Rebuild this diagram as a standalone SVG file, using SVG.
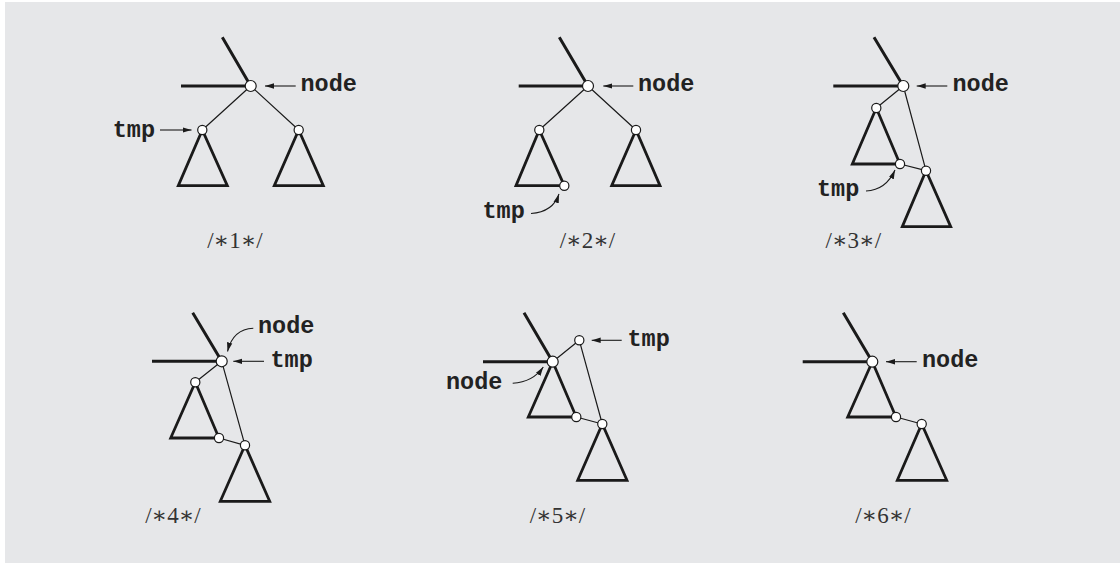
<svg xmlns="http://www.w3.org/2000/svg" width="1120" height="563" viewBox="0 0 1120 563">
<defs>
<style>
.bg{fill:#e6e7e9}
.thick{stroke:#1a1a1a;stroke-width:3;fill:none;stroke-linecap:butt}
.thin{stroke:#1a1a1a;stroke-width:1.2;fill:none}
.tri{stroke:#1a1a1a;stroke-width:2.8;fill:none;stroke-linejoin:miter}
.nd{fill:#fff;stroke:#1a1a1a;stroke-width:1.2}
.arr{stroke:#1a1a1a;stroke-width:1.1;fill:none;marker-end:url(#ah)}
.lbl{font-family:"Liberation Mono","Courier New",monospace;font-weight:bold;font-size:23.5px;fill:#222}
.cap{font-family:"Liberation Serif","DejaVu Serif",serif;font-size:23px;fill:#333;text-anchor:middle}
</style>
<marker id="ah" markerUnits="userSpaceOnUse" markerWidth="9" markerHeight="6" refX="9" refY="3" orient="auto">
<path d="M0,0.3 L9,3 L0,5.7 z" fill="#1a1a1a"/>
</marker>
</defs>
<rect class="bg" x="5" y="2" width="1115" height="561"/>

<g id="connectors">
<!-- panel 1 -->
<path class="thick" d="M222.3,37.3 L250.7,86 M181,86 L250.7,86"/>
<path class="thin" d="M250.7,86 L202.3,130 M250.7,86 L298.7,130"/>
<!-- panel 2 -->
<path class="thick" d="M559.3,37.3 L588,86 M518.7,86 L588,86"/>
<path class="thin" d="M588,86 L539.3,130 M588,86 L636,130"/>
<!-- panel 3 -->
<path class="thick" d="M874,37.3 L903.3,86 M833.3,86 L903.3,86"/>
<path class="thin" d="M903.3,86 L876.3,108 M903.3,86 L926,170.7 M900,164 L926,170.7"/>
<!-- panel 4 -->
<path class="thick" d="M192.7,312.7 L221.7,361.3 M152,361.3 L221.7,361.3"/>
<path class="thin" d="M221.7,361.3 L195.3,382.3 M221.7,361.3 L245,445.3 M219,438 L245,445.3"/>
<!-- panel 5 -->
<path class="thick" d="M524,312.7 L552.7,361.7 M483,361.7 L552.7,361.7"/>
<path class="thin" d="M552.7,361.7 L579.3,340.3 M579.3,340.3 L602.3,424 M576.3,417 L602.3,424"/>
<!-- panel 6 -->
<path class="thick" d="M843.3,312.7 L872.3,361.7 M802.7,361.7 L872.3,361.7"/>
<path class="thin" d="M896,417 L921.7,424"/>
<!-- pointer arrows -->
<path class="arr" d="M295.7,86 L265,86"/>
<path class="arr" d="M160,130 L191.5,130"/>
<path class="arr" d="M633.3,86 L603.3,86"/>
<path class="arr" d="M531,213.5 Q553,212 559,194"/>
<path class="arr" d="M947.3,86 L916.7,86"/>
<path class="arr" d="M866,191 Q886,190 895,170"/>
<path class="arr" d="M264,361.3 L233.3,361.3"/>
<path class="arr" d="M253.3,328.3 Q233,329 227.5,351.5"/>
<path class="arr" d="M621.7,340.3 L591.7,340.3"/>
<path class="arr" d="M512.7,383.3 Q533,382 543.3,367"/>
<path class="arr" d="M916.7,361.7 L886,361.7"/>
</g>

<g id="subtrees">
<polygon class="tri" points="202.3,130 178.3,185.7 227.3,185.7"/>
<polygon class="tri" points="298.7,130 274.3,185.7 323.3,185.7"/>
<polygon class="tri" points="539.3,130 516,185.7 564.3,185.7"/>
<polygon class="tri" points="636,130 611.7,185.7 660,185.7"/>
<polygon class="tri" points="876.3,108 852.3,164 900,164"/>
<polygon class="tri" points="926,170.7 902.3,226.7 950.7,226.7"/>
<polygon class="tri" points="195.3,382.3 170.7,438 219,438"/>
<polygon class="tri" points="245,445.3 220.3,501.3 269.7,501.3"/>
<polygon class="tri" points="552.7,361.7 528.3,417 576.3,417"/>
<polygon class="tri" points="602.3,424 577.7,480.3 627,480.3"/>
<polygon class="tri" points="872.3,361.7 847.7,417 896,417"/>
<polygon class="tri" points="921.7,424 897.3,480.3 946.7,480.3"/>
</g>

<g id="panel1">
<circle id="p1-root" class="nd" cx="250.7" cy="86" r="5.5"/>
<circle id="p1-left" class="nd" cx="202.3" cy="130" r="4.6"/>
<circle id="p1-right" class="nd" cx="298.7" cy="130" r="4.6"/>
<text class="lbl" x="300.5" y="91">node</text>
<text class="lbl" x="155" y="136.5" text-anchor="end">tmp</text>
<text class="cap" x="235" y="248">/∗1∗/</text>
</g>

<g id="panel2">
<circle id="p2-root" class="nd" cx="588" cy="86" r="5.5"/>
<circle id="p2-left" class="nd" cx="539.3" cy="130" r="4.6"/>
<circle id="p2-right" class="nd" cx="636" cy="130" r="4.6"/>
<circle id="p2-tmp" class="nd" cx="564.3" cy="185.7" r="4.6"/>
<text class="lbl" x="638" y="91">node</text>
<text class="lbl" x="482.5" y="217.5">tmp</text>
<text class="cap" x="587.5" y="248">/∗2∗/</text>
</g>

<g id="panel3">
<circle id="p3-root" class="nd" cx="903.3" cy="86" r="5.5"/>
<circle id="p3-left" class="nd" cx="876.3" cy="108" r="4.6"/>
<circle id="p3-tmp" class="nd" cx="900" cy="164" r="4.6"/>
<circle id="p3-right" class="nd" cx="926" cy="170.7" r="4.6"/>
<text class="lbl" x="952.5" y="91">node</text>
<text class="lbl" x="817" y="196">tmp</text>
<text class="cap" x="853.3" y="248">/∗3∗/</text>
</g>

<g id="panel4">
<circle id="p4-root" class="nd" cx="221.7" cy="361.3" r="5.5"/>
<circle id="p4-left" class="nd" cx="195.3" cy="382.3" r="4.6"/>
<circle id="p4-mid" class="nd" cx="219" cy="438" r="4.6"/>
<circle id="p4-right" class="nd" cx="245" cy="445.3" r="4.6"/>
<text class="lbl" x="258" y="332.5">node</text>
<text class="lbl" x="270.5" y="367">tmp</text>
<text class="cap" x="173" y="523">/∗4∗/</text>
</g>

<g id="panel5">
<circle id="p5-root" class="nd" cx="552.7" cy="361.7" r="5.5"/>
<circle id="p5-tmp" class="nd" cx="579.3" cy="340.3" r="4.6"/>
<circle id="p5-mid" class="nd" cx="576.3" cy="417" r="4.6"/>
<circle id="p5-right" class="nd" cx="602.3" cy="424" r="4.6"/>
<text class="lbl" x="627.5" y="346">tmp</text>
<text class="lbl" x="446" y="389">node</text>
<text class="cap" x="557.5" y="523">/∗5∗/</text>
</g>

<g id="panel6">
<circle id="p6-root" class="nd" cx="872.3" cy="361.7" r="5.5"/>
<circle id="p6-mid" class="nd" cx="896" cy="417" r="4.6"/>
<circle id="p6-right" class="nd" cx="921.7" cy="424" r="4.6"/>
<text class="lbl" x="922" y="367">node</text>
<text class="cap" x="883" y="523">/∗6∗/</text>
</g>
</svg>
